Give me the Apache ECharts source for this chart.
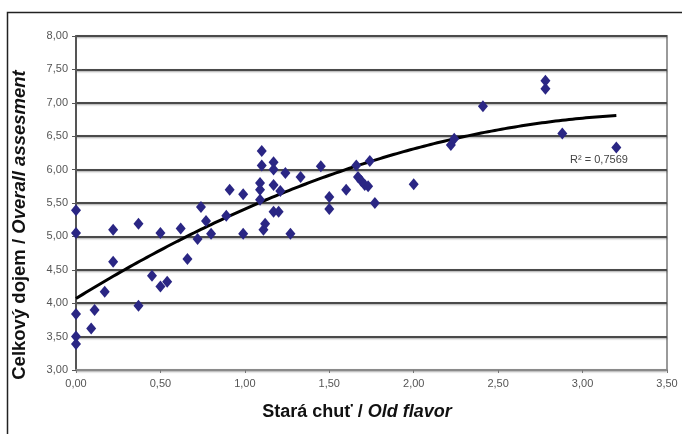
<!DOCTYPE html>
<html>
<head>
<meta charset="utf-8">
<script src="https://cdn.jsdelivr.net/npm/echarts@6/dist/echarts.min.js"></script>
<style>
html,body{margin:0;padding:0;background:#fff;}
#chart{width:682px;height:434px;}
</style>
</head>
<body>
<div id="chart"></div>
<script>
// Stará chuť / Old flavor (x) values
const oldFlavor = [
  0.00, 0.00, 0.00, 0.00, 0.00, 0.09, 0.11, 0.17, 0.22, 0.22,
  0.37, 0.37, 0.45, 0.50, 0.50, 0.54, 0.62, 0.66, 0.72, 0.74,
  0.77, 0.80, 0.89, 0.91, 0.99, 0.99, 1.09, 1.09, 1.09, 1.10,
  1.10, 1.11, 1.12, 1.17, 1.17, 1.17, 1.17, 1.20, 1.21, 1.24,
  1.27, 1.33, 1.45, 1.50, 1.50, 1.60, 1.66, 1.67, 1.69, 1.71,
  1.73, 1.74, 1.77, 2.00, 2.22, 2.24, 2.41, 2.78, 2.78, 2.88,
  3.20
];
// Celkový dojem / Overall assesment (y) values
const overall = [
  5.39, 5.05, 3.84, 3.50, 3.39, 3.62, 3.90, 4.17, 5.10, 4.62,
  3.96, 5.19, 4.41, 4.25, 5.05, 4.32, 5.12, 4.66, 4.96, 5.44,
  5.23, 5.04, 5.31, 5.70, 5.63, 5.04, 5.55, 5.80, 5.70, 6.28,
  6.06, 5.10, 5.19, 6.11, 6.00, 5.77, 5.37, 5.37, 5.68, 5.95,
  5.04, 5.89, 6.05, 5.59, 5.41, 5.70, 6.06, 5.89, 5.83, 5.77,
  5.75, 6.13, 5.50, 5.78, 6.37, 6.46, 6.95, 7.33, 7.21, 6.54,
  6.33
];
const yTickValues = [3.00, 3.50, 4.00, 4.50, 5.00, 5.50, 6.00, 6.50, 7.00, 7.50, 8.00];
const xTickValues = [0.00, 0.50, 1.00, 1.50, 2.00, 2.50, 3.00, 3.50];
// Polynomial (order 2) trendline as drawn in the picture: y = c0 + c1*x + c2*x^2
const trendCoef = [4.07, 1.56, -0.22];
const trendRange = [0.00, 3.20];
const r2Label = 'R² = 0,7569';

const trend = [];
for (let i = 0; i <= 80; i++) {
  const x = trendRange[0] + (trendRange[1] - trendRange[0]) * i / 80;
  trend.push([x, trendCoef[0] + trendCoef[1] * x + trendCoef[2] * x * x]);
}
const points = oldFlavor.map((x, i) => [x, overall[i]]);
const fmt = v => v.toFixed(2).replace('.', ',');

const chart = echarts.init(document.getElementById('chart'), null, {renderer: 'canvas'});
chart.setOption({
  backgroundColor: '#fff',
  animation: false,
  grid: {left: 76, right: 15, top: 36, bottom: 64, show: true, borderColor: '#9a9a9a', borderWidth: 2, backgroundColor: '#fff'},
  xAxis: {
    type: 'value', min: xTickValues[0], max: xTickValues[xTickValues.length - 1], interval: 0.5,
    axisLine: {show: true, onZero: false, lineStyle: {color: '#8a8a8a', width: 2}},
    axisTick: {show: true, length: 3, lineStyle: {color: '#777'}},
    axisLabel: {formatter: fmt, color: '#555', fontFamily: 'Arial, Liberation Sans', fontSize: 11, margin: 8},
    splitLine: {show: false}
  },
  yAxis: {
    type: 'value', min: yTickValues[0], max: yTickValues[yTickValues.length - 1], interval: 0.5,
    axisLine: {show: true, onZero: false, lineStyle: {color: '#555', width: 2}},
    axisTick: {show: true, length: 4, lineStyle: {color: '#555', width: 1}},
    axisLabel: {formatter: fmt, color: '#555', fontFamily: 'Arial, Liberation Sans', fontSize: 11, margin: 8},
    splitLine: {show: true, lineStyle: {color: '#4a4a4a', width: 2, shadowColor: 'rgba(0,0,0,0.35)', shadowBlur: 2, shadowOffsetY: 1}}
  },
  series: [
    {
      type: 'line', data: trend, showSymbol: false, smooth: true, z: 3,
      lineStyle: {color: '#000', width: 3}
    },
    {
      type: 'scatter', data: points, symbol: 'diamond', symbolSize: [10, 12], z: 4,
      itemStyle: {color: '#2a2684', opacity: 1}
    }
  ],
  graphic: [
    {type: 'rect', left: 5, top: 10, shape: {x: 0, y: 0, width: 720, height: 460}, style: {fill: 'none', stroke: '#222', lineWidth: 1.5}, z: 0, silent: true},
    {type: 'text', x: 599, y: 160, style: {text: r2Label, fill: '#444', font: '11px Arial, Liberation Sans', textAlign: 'center', textVerticalAlign: 'middle'}, z: 10},
    {type: 'text', x: 357, y: 412, style: {
      text: '{a|Stará chuť / }{b|Old flavor}',
      textAlign: 'center', textVerticalAlign: 'middle',
      rich: {
        a: {fontFamily: 'Arial, Liberation Sans', fontWeight: 'bold', fontSize: 18, fill: '#111'},
        b: {fontFamily: 'Arial, Liberation Sans', fontWeight: 'bold', fontStyle: 'italic', fontSize: 18, fill: '#111'}
      }
    }, z: 10},
    {type: 'text', x: 20, y: 225, rotation: Math.PI / 2, style: {
      text: '{a|Celkový dojem / }{b|Overall assesment}',
      textAlign: 'center', textVerticalAlign: 'middle',
      rich: {
        a: {fontFamily: 'Arial, Liberation Sans', fontWeight: 'bold', fontSize: 18.5, fill: '#111'},
        b: {fontFamily: 'Arial, Liberation Sans', fontWeight: 'bold', fontStyle: 'italic', fontSize: 18.5, fill: '#111'}
      }
    }, z: 10}
  ]
});
</script>
</body>
</html>
